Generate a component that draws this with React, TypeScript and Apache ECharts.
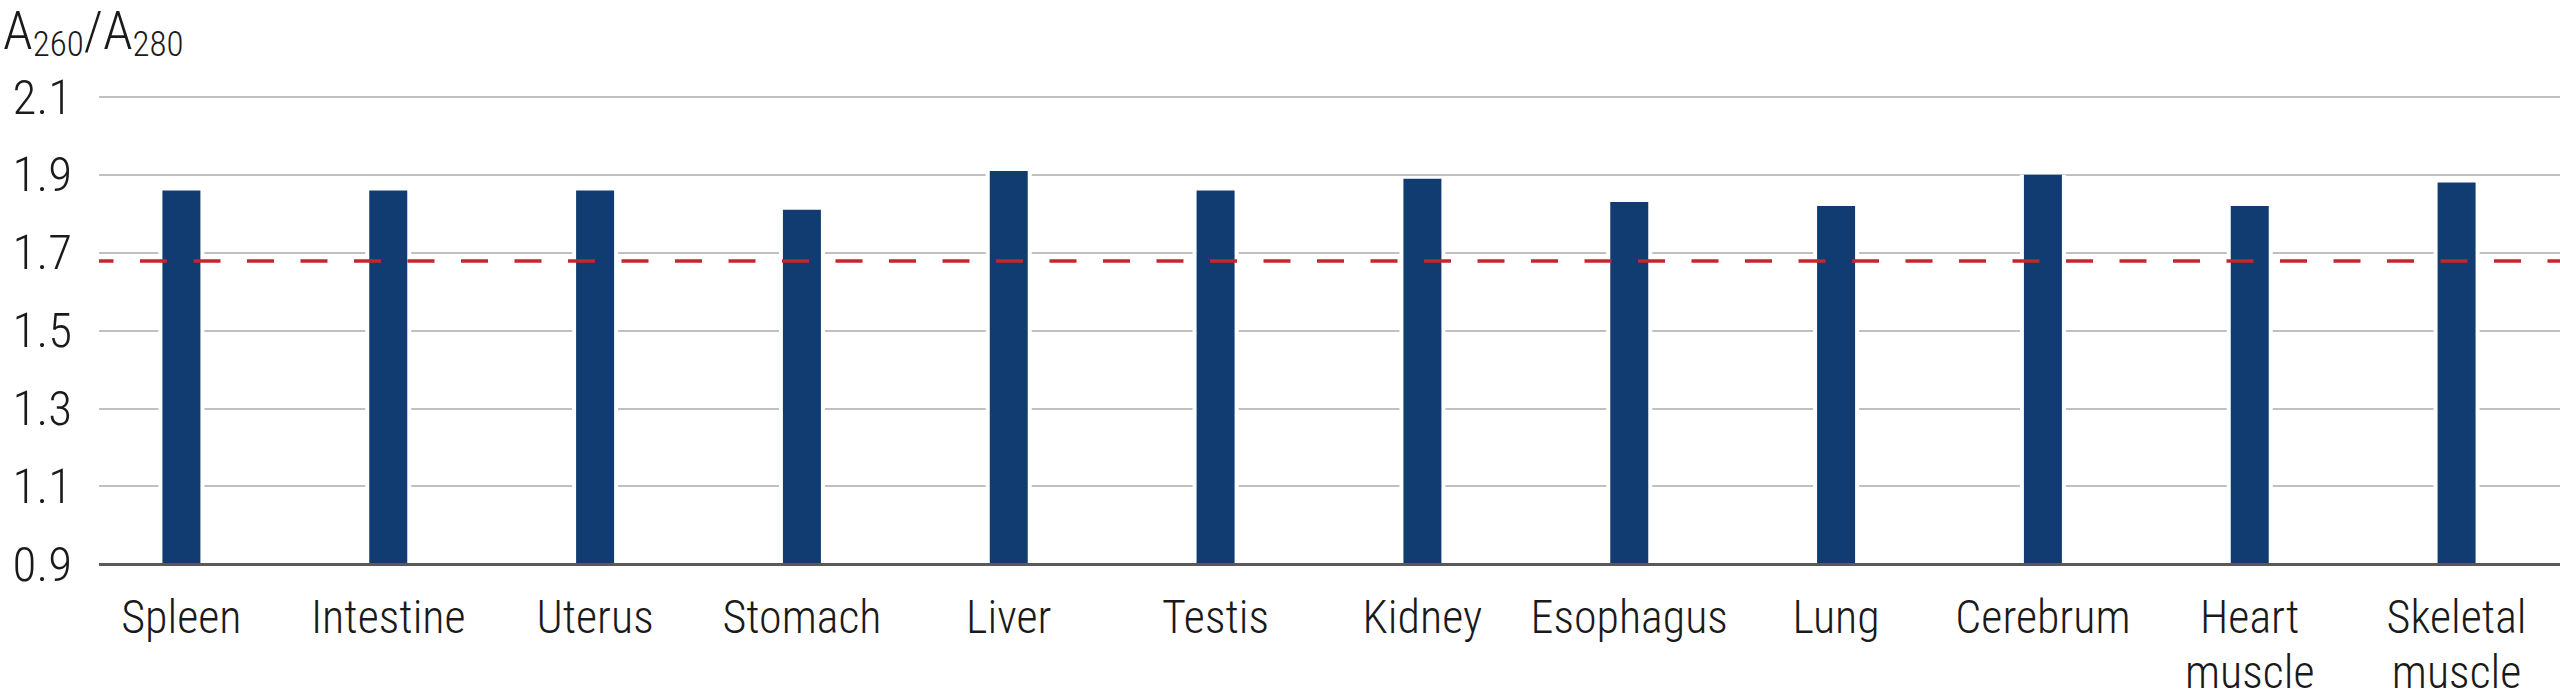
import React, { useEffect, useRef } from 'react';
import * as echarts from 'echarts';

const categories = ['Spleen', 'Intestine', 'Uterus', 'Stomach', 'Liver', 'Testis', 'Kidney', 'Esophagus', 'Lung', 'Cerebrum', 'Heart\nmuscle', 'Skeletal\nmuscle'];
const ratios = [1.86, 1.86, 1.86, 1.81, 1.91, 1.86, 1.89, 1.83, 1.82, 1.90, 1.82, 1.88];
const threshold = 1.68;
const yMin = 0.9;
const yMax = 2.1;
const yStep = 0.2;

const FONT = "'Liberation Sans Narrow', 'Roboto Condensed', 'Noto Sans Condensed', 'DejaVu Sans Condensed', sans-serif";

export default function App() {
  const ref = useRef<HTMLDivElement>(null);
  useEffect(() => {
    if (!ref.current) return;
    const chart = echarts.init(ref.current, null, { renderer: 'svg' });
    chart.setOption({
      animation: false,
      backgroundColor: '#ffffff',
      grid: { left: 78, right: -9, top: 97, bottom: 130, containLabel: false },
      xAxis: [
        {
          type: 'category',
          data: categories,
          z: 5,
          axisLine: { show: true, lineStyle: { color: '#595959', width: 3 } },
          axisTick: { show: false },
          axisLabel: {
            interval: 0,
            margin: 25,
            fontFamily: FONT,
            fontWeight: 300,
            fontSize: 46,
            lineHeight: 55,
            color: '#1a1a1a',
          },
        },
        {
          type: 'category',
          data: categories,
          show: false,
        },
      ],
      yAxis: {
        type: 'value',
        min: yMin,
        max: yMax,
        interval: yStep,
        axisLine: { show: false },
        axisTick: { show: false },
        splitLine: { show: true, lineStyle: { color: '#c0c0c0', width: 2 } },
        axisLabel: {
          margin: 6,
          fontFamily: FONT,
          fontWeight: 300,
          fontSize: 49,
          color: '#1a1a1a',
          formatter: (v: number) => v.toFixed(1),
        },
      },
      series: [
        {
          type: 'bar',
          xAxisIndex: 1,
          data: ratios,
          barWidth: 46,
          z: 1,
          silent: true,
          itemStyle: { color: '#ffffff', borderColor: '#ffffff', borderWidth: 6 },
        },
        {
          type: 'bar',
          xAxisIndex: 0,
          data: ratios,
          barWidth: 38,
          z: 2,
          itemStyle: { color: '#113c72' },
          markLine: {
            silent: true,
            symbol: ['none', 'none'],
            label: { show: false },
            lineStyle: { color: '#c1272d', width: 3.5, type: [27, 26.5], dashOffset: 45 },
            data: [{ yAxis: threshold }],
          },
        },
      ],
      graphic: [
        {
          type: 'rect',
          z: 100,
          shape: { x: 73, y: 88, width: 26, height: 490 },
          style: { fill: '#ffffff' },
        },
        {
          type: 'text',
          z: 100,
          left: 3,
          top: 3,
          style: {
            text: '{a|A}{s|260}{a|/A}{s|280}',
            rich: {
              a: { fontFamily: FONT, fontWeight: 300, fontSize: 54, fill: '#1a1a1a', verticalAlign: 'top' },
              s: { fontFamily: FONT, fontWeight: 300, fontSize: 35, fill: '#1a1a1a', verticalAlign: 'top', padding: [24, 0, 0, 0] },
            },
          },
        },
      ],
    });
    return () => chart.dispose();
  }, []);
  return <div ref={ref} style={{ position: 'fixed', left: 0, top: 0, width: 2560, height: 699 }} />;
}
